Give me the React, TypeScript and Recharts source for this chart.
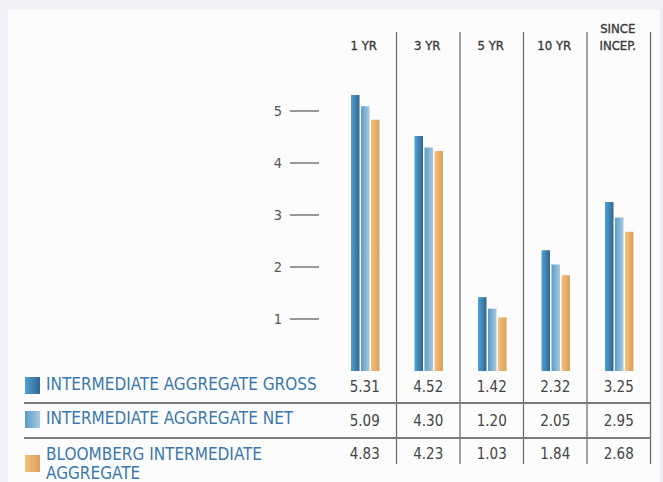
import { BarChart, Bar, XAxis, YAxis } from "recharts";

const CATEGORIES = ["1 YR", "3 YR", "5 YR", "10 YR", "SINCE INCEP."];
const HEADER_LINES = [["1 YR"], ["3 YR"], ["5 YR"], ["10 YR"], ["SINCE", "INCEP."]];
const GROSS = [5.31, 4.52, 1.42, 2.32, 3.25];
const NET = [5.09, 4.3, 1.2, 2.05, 2.95];
const BENCHMARK = [4.83, 4.23, 1.03, 1.84, 2.68];
const SERIES_NAMES = [
  "INTERMEDIATE AGGREGATE GROSS",
  "INTERMEDIATE AGGREGATE NET",
  "BLOOMBERG INTERMEDIATE AGGREGATE",
];
const Y_TICKS = [1, 2, 3, 4, 5];

const FONT = "'DejaVu Sans Condensed', 'Liberation Sans Narrow', sans-serif";
const GRADIENTS = [
  ["#4ea2d6", "#34658e"],
  ["#5a9dc9", "#a8cae2"],
  ["#f5c17e", "#daa059"],
];
const KEYS = ["gross", "net", "bench"];

const BAND = 63.5;

const data = CATEGORIES.map((label, i) => ({
  label,
  gross: GROSS[i],
  net: NET[i],
  bench: BENCHMARK[i],
}));

function HeaderTick(props: any) {
  const { x, index } = props;
  const lines = HEADER_LINES[index];
  return (
    <g>
      {lines.map((ln, j) => (
        <text
          key={ln}
          x={x - 1}
          y={50 - (lines.length - 1 - j) * 17.5}
          textAnchor="middle"
          fontFamily={FONT}
          fontSize={13}
          fill="#3a3a3a"
          stroke="#3a3a3a"
          strokeWidth={0.35}
        >
          {ln}
        </text>
      ))}
      <line x1={x + BAND / 2} x2={x + BAND / 2} y1={32} y2={464} stroke="#6f6f6f" strokeWidth={1.3} />
    </g>
  );
}

function ValueTick(props: any) {
  const { x, index } = props;
  const rows = [GROSS, NET, BENCHMARK];
  const baselines = [392, 425.5, 459];
  return (
    <g>
      {rows.map((r, j) => (
        <text
          key={j}
          x={x}
          y={baselines[j]}
          textAnchor="middle"
          fontFamily={FONT}
          fontSize={15}
          fill="#444"
        >
          {r[index].toFixed(2)}
        </text>
      ))}
    </g>
  );
}

function YTick(props: any) {
  const { y, payload } = props;
  return (
    <g>
      <line x1={290} x2={319} y1={y} y2={y} stroke="#555" strokeWidth={1.2} />
      <text x={282} y={y + 5} textAnchor="end" fontFamily={FONT} fontSize={14.5} fill="#555">
        {payload.value}
      </text>
    </g>
  );
}

export default function App() {
  const legendTops = [377, 411, 455];
  const textTops = [375, 409, 445];
  return (
    <div
      style={{
        position: "absolute",
        left: 0,
        top: 0,
        width: 663,
        height: 482,
        background: "#eff1f6",
        overflow: "hidden",
      }}
    >
      <div
        style={{
          position: "absolute",
          left: 8,
          top: 10,
          width: 652,
          height: 472,
          background: "#fcfcfc",
        }}
      />
      <div style={{ position: "absolute", left: 0, top: 0 }}>
        <BarChart
          width={663}
          height={482}
          data={data}
          margin={{ top: 19, right: 12.5, bottom: 11, left: 273 }}
          barSize={8.5}
          barGap={1.5}
        >
          <defs>
            {GRADIENTS.map((g, i) => (
              <linearGradient key={i} id={`grad${i}`} x1="0" y1="0" x2="1" y2="0">
                <stop offset="0%" stopColor={g[0]} />
                <stop offset="100%" stopColor={g[1]} />
              </linearGradient>
            ))}
          </defs>
          <XAxis
            xAxisId="top"
            orientation="top"
            dataKey="label"
            height={40}
            axisLine={false}
            tickLine={false}
            tick={<HeaderTick />}
            interval={0}
          />
          <XAxis
            xAxisId="bottom"
            orientation="bottom"
            dataKey="label"
            height={100}
            axisLine={false}
            tickLine={false}
            tick={<ValueTick />}
            interval={0}
          />
          <YAxis
            width={60}
            domain={[0, 6]}
            ticks={Y_TICKS}
            axisLine={false}
            tickLine={false}
            tick={<YTick />}
          />
          {KEYS.map((k, i) => (
            <Bar
              key={k}
              dataKey={k}
              name={SERIES_NAMES[i]}
              xAxisId="bottom"
              fill={`url(#grad${i})`}
              isAnimationActive={false}
            />
          ))}
        </BarChart>
      </div>
      {SERIES_NAMES.map((name, i) => (
        <div key={name}>
          <div
            style={{
              position: "absolute",
              left: 25,
              top: legendTops[i],
              width: 15,
              height: 17,
              background: `linear-gradient(to right, ${GRADIENTS[i][0]}, ${GRADIENTS[i][1]})`,
            }}
          />
          <div
            style={{
              position: "absolute",
              left: 46,
              top: textTops[i],
              width: i === 2 ? 230 : 300,
              fontFamily: FONT,
              fontSize: 17,
              lineHeight: "19px",
              color: "#3b78ad",
            }}
          >
            {name}
          </div>
        </div>
      ))}
      {[402, 437].map((t) => (
        <div
          key={t}
          style={{
            position: "absolute",
            left: 24,
            top: t,
            width: 626,
            height: 1.5,
            background: "#7a7a7a",
          }}
        />
      ))}
    </div>
  );
}
